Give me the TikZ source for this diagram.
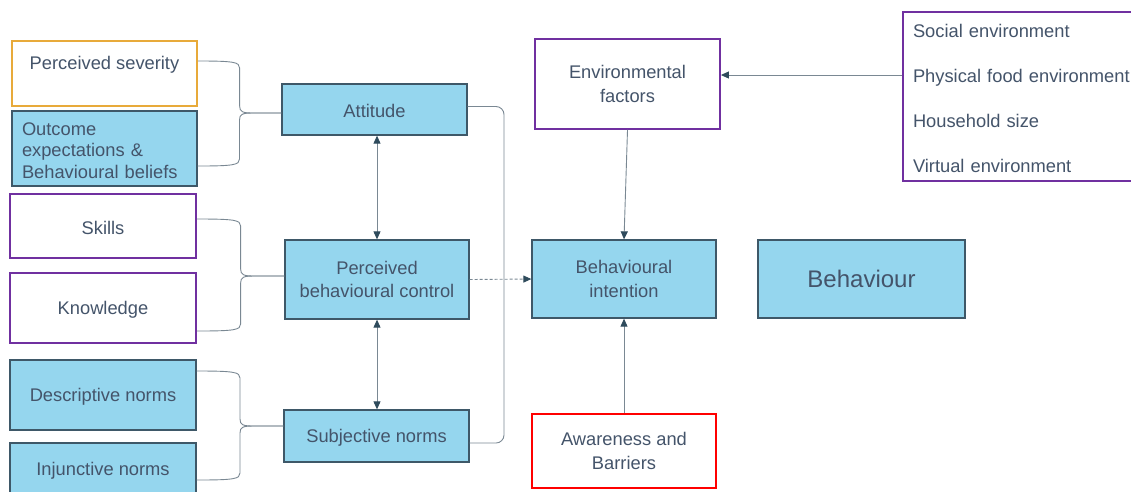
\documentclass[tikz,border=0pt]{standalone}
\usepackage{fontspec}
\setmainfont{Liberation Sans}
\usetikzlibrary{arrows.meta,calc}
\definecolor{bfill}{HTML}{95D6EE}
\definecolor{bdr}{HTML}{3E5868}
\definecolor{txt}{HTML}{44546A}
\definecolor{lgray}{HTML}{7A8893}
\definecolor{tipc}{HTML}{2F4B5C}
\definecolor{purp}{HTML}{7030A0}
\definecolor{orng}{HTML}{E8AA3A}
\definecolor{redc}{HTML}{FF0000}
\begin{document}
\begin{tikzpicture}[x=1pt,y=-1pt,
  every node/.style={text=txt, font=\fontsize{18.3}{22.5}\selectfont},
  basebox/.style={align=center, inner sep=0pt, execute at begin node={\rule{0pt}{17pt}}},
  nolift/.style={execute at begin node={}},
  twoline/.style={font=\fontsize{18.3}{23.2}\selectfont, execute at begin node={\rule{0pt}{20pt}}},
  bluebox/.style={basebox, draw=bdr, line width=1.3pt, fill=bfill},
  purplebox/.style={basebox, draw=purp, line width=1.8pt, fill=white},
  orangebox/.style={basebox, draw=orng, line width=1.8pt, fill=white},
  redbox/.style={basebox, draw=redc, line width=1.8pt, fill=white},
  conn/.style={draw=lgray, line width=0.9pt},
  arr/.style={conn, -{Triangle[length=8pt,width=7pt,color=tipc]}},
  darr/.style={conn, {Triangle[length=8pt,width=7pt,color=tipc]}-{Triangle[length=8pt,width=7pt,color=tipc]}},
  dasharr/.style={arr, dash pattern=on 3pt off 2pt},
  brdown/.style={to path={let \p1=(\tikztostart), \p2=(\tikztotarget),
     \p3=($(\tikztostart)!0.5!(\tikztotarget)$) in
     .. controls (\x3-6pt,\y1) and (\x3,\y1-1pt) .. (\x3,\y1-7pt)
     -- (\x3,\y2+7pt)
     .. controls (\x3,\y2+1pt) and (\x3+3pt,\y2) .. (\x3+14pt,\y2)
     -- (\tikztotarget)}},
  brup/.style={to path={let \p1=(\tikztostart), \p2=(\tikztotarget),
     \p3=($(\tikztostart)!0.5!(\tikztotarget)$) in
     .. controls (\x3-6pt,\y1) and (\x3,\y1+1pt) .. (\x3,\y1+7pt)
     -- (\x3,\y2-7pt)
     .. controls (\x3,\y2-1pt) and (\x3+3pt,\y2) .. (\x3+14pt,\y2)
     -- (\tikztotarget)}},
]
\useasboundingbox (0,0) rectangle (1131,491);
\clip (0,0) rectangle (1131,491);

% left column
\node[orangebox, nolift, minimum width=185pt, minimum height=65pt, font=\fontsize{18.3}{21.5}\selectfont] (ps) at (104.5,73.5) {Perceived severity\\\mbox{}};
\node[bluebox, nolift, minimum width=185pt, minimum height=75pt, text width=165pt, inner xsep=10pt, align=left, font=\fontsize{18.3}{21.5}\selectfont] (oe) at (104.5,148.5) {Outcome\\expectations \&\\Behavioural beliefs};
\node[purplebox, minimum width=186pt, minimum height=64pt] (sk) at (103,226) {Skills};
\node[purplebox, minimum width=186pt, minimum height=70pt] (kn) at (103,308) {Knowledge};
\node[bluebox, minimum width=186pt, minimum height=70pt] (dn) at (103,395) {Descriptive norms};
\node[bluebox, minimum width=186pt, minimum height=52pt] (inj) at (103,469) {Injunctive norms};

% middle column
\node[bluebox, minimum width=185pt, minimum height=51pt] (att) at (374.5,109.5) {Attitude};
\node[bluebox, twoline, minimum width=184pt, minimum height=79pt] (pbc) at (377,279.5) {Perceived\\behavioural control};
\node[bluebox, minimum width=185pt, minimum height=52pt] (sn) at (376.5,436) {Subjective norms};

% right part
\node[purplebox, twoline, minimum width=185pt, minimum height=90pt] (ef) at (627.5,84) {Environmental\\factors};
\node[bluebox, twoline, minimum width=184pt, minimum height=78pt] (bi) at (624,279) {Behavioural\\intention};
\node[bluebox, nolift, minimum width=207pt, minimum height=78pt, font=\fontsize{24}{28}\selectfont] (bh) at (861.5,279) {Behaviour};
\node[redbox, twoline, minimum width=184pt, minimum height=74pt] (aw) at (624,451) {Awareness and\\Barriers};
\node[purplebox, minimum width=257pt, minimum height=169pt, text width=237pt, inner xsep=10pt, align=left, font=\fontsize{18.3}{44.8}\selectfont, execute at begin node={\rule{0pt}{14pt}}] (env) at (1031.5,96.5) {Social environment\\Physical food environment\\Household size\\Virtual environment};

% braces
\draw[conn] ([yshift=12.5pt]ps.east) to[brdown] ([yshift=-3.5pt]att.west);
\draw[conn] ([yshift=-17.5pt]oe.east) to[brup] ([yshift=-3.5pt]att.west);
\draw[conn] ([yshift=7pt]sk.east) to[brdown] ([yshift=3.5pt]pbc.west);
\draw[conn] ([yshift=-23pt]kn.east) to[brup] ([yshift=3.5pt]pbc.west);
\draw[conn] ([yshift=24pt]dn.east) to[brdown] ([yshift=10pt]sn.west);
\draw[conn] ([yshift=-11pt]inj.east) to[brup] ([yshift=10pt]sn.west);

% right bracket
\coordinate (rx) at (504,0);
\draw[conn, rounded corners=8pt] ([yshift=3pt]att.east) -- ([yshift=3pt]att.east -| rx) -- ([yshift=-7pt]sn.east -| rx) -- ([yshift=-7pt]sn.east);

% arrows
\draw[darr] (pbc.north |- att.south) -- (pbc.north);
\draw[darr] (pbc.south) -- (pbc.south |- sn.north);
\draw[dasharr] (pbc.east) -- (bi.west);
\draw[arr] ([yshift=21.5pt]env.west) -- ([yshift=9pt]ef.east);
\draw[arr] (ef.south) -- (bi.north);
\draw[arr] (aw.north) -- (bi.south);
\end{tikzpicture}
\end{document}
